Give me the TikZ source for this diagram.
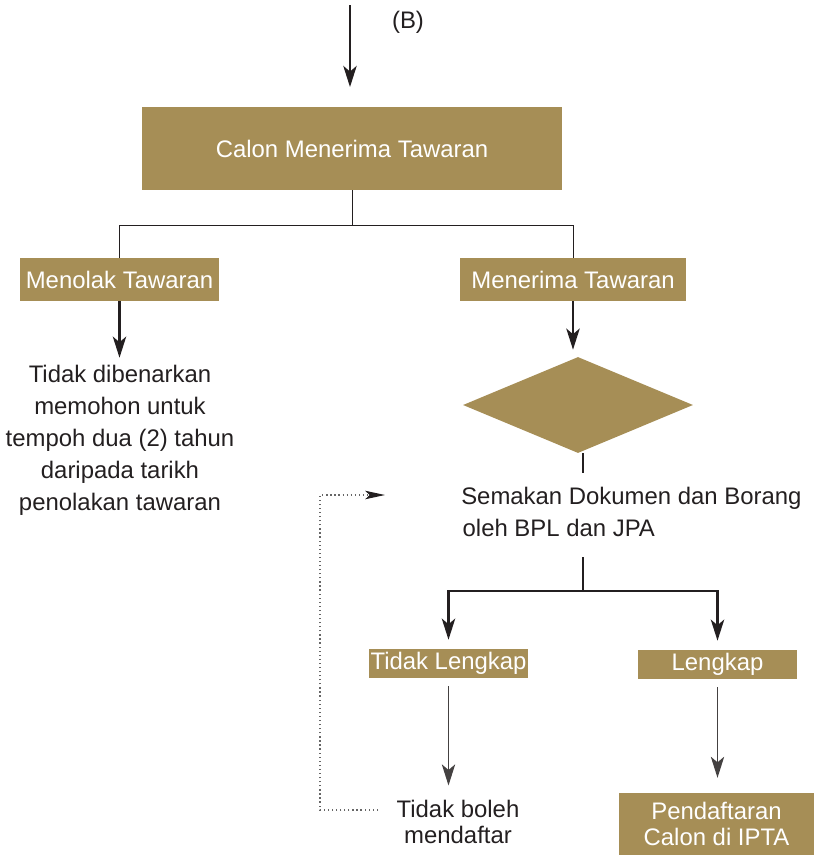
\documentclass[tikz,border=0pt]{standalone}
\usepackage{fontspec}
\setmainfont{Liberation Sans}
\usetikzlibrary{shapes.geometric, arrows.meta}
\definecolor{gold}{HTML}{A68E56}
\definecolor{ink}{HTML}{231F20}

\begin{document}
\begin{tikzpicture}[x=0.025cm, y=-0.025cm,
  >={Stealth[length=15pt, width=9.5pt, inset=4pt]},
  box/.style={fill=gold, text=white, inner sep=0pt, align=center,
    font=\fontsize{17}{19.1}\selectfont},
  txt/.style={text=ink, inner sep=0pt, font=\fontsize{17}{22.7}\selectfont},
  thinline/.style={line width=0.7pt, draw=ink},
  medline/.style={line width=1.6pt, draw=ink},
  heavy/.style={line width=1.9pt, draw=ink},
  loopback/.style={line width=0.9pt, draw=black!60, dotted}]
\useasboundingbox (0, 0) rectangle (814, 855);

\coordinate (entry) at (350, 5);
\node[txt] (lblB) at (408, 22) {(B)};
\node[box, minimum width=10.5cm, minimum height=2.075cm] (calon) at (352, 148.5)
  {Calon Menerima Tawaran};
\draw[medline, ->, shorten >=14pt] (entry) -- (entry |- calon.north);

\node[box, minimum width=4.975cm, minimum height=1.075cm] (tolak) at (119.5, 279.5)
  {Menolak Tawaran};
\node[box, minimum width=5.65cm, minimum height=1.075cm] (terima) at (573, 279.5)
  {Menerima Tawaran};
\draw[thinline] (calon.south) -- ++(0, 35) -| (tolak.north);
\draw[thinline] (calon.south) -- ++(0, 35) -| (terima.north);

\node[txt, align=center] (larang) at (120, 440)
  {Tidak dibenarkan\\memohon untuk\\tempoh dua (2) tahun\\daripada tarikh\\penolakan tawaran};
\draw[heavy, ->, shorten >=5pt] (tolak.south) -- (tolak.south |- larang.north);

\node[diamond, fill=gold, inner sep=0pt, minimum width=5.75cm, minimum height=2.4cm,
  aspect=2.4] (semak) at (578, 405) {};
\draw[heavy, ->, shorten >=5pt] (terima.south) -- (terima.south |- semak.north);

\coordinate (semtop) at (583, 473);
\coordinate (sembot) at (583, 557);
\coordinate (fork) at (583, 591);
\draw[heavy] (semak.south -| semtop) -- (semtop);
\node[txt, anchor=west, align=left] (borang) at (461, 512)
  {Semakan Dokumen dan Borang\\\hspace{1pt}oleh BPL dan JPA};

\node[box, minimum width=3.975cm, minimum height=0.725cm] (tl) at (448.5, 663.5)
  {Tidak Lengkap};
\node[box, minimum width=3.975cm, minimum height=0.725cm] (lk) at (717.5, 664.5)
  {Lengkap};
\draw[heavy, ->, shorten >=6.4pt] (sembot) -- (fork) -| (tl.north);
\draw[heavy, ->, shorten >=6.4pt] (fork) -| (lk.north);

\node[txt, align=center, font=\fontsize{17}{19.1}\selectfont] (gagal) at (458, 822)
  {Tidak boleh\\mendaftar};
\node[box, minimum width=4.875cm, minimum height=1.55cm] (daftar) at (716.5, 824)
  {Pendaftaran\\Calon di IPTA};
\draw[line width=0.9pt, draw=ink!85, ->, shorten <=5.7pt, shorten >=10pt]
  (tl.south) -- (tl.south |- gagal.north);
\draw[line width=0.9pt, draw=ink!85, ->, shorten <=5.7pt, shorten >=10.6pt]
  (lk.south) -- (lk.south |- daftar.north);

% balik ke semakan
\coordinate (ulang) at (378, 810);
\coordinate (balik) at (385, 495);
\draw[loopback, -{Stealth[length=14pt, width=6pt, inset=3pt, color=ink]}]
  (ulang) -- (320, 810) |- (balik);
\end{tikzpicture}
\end{document}
